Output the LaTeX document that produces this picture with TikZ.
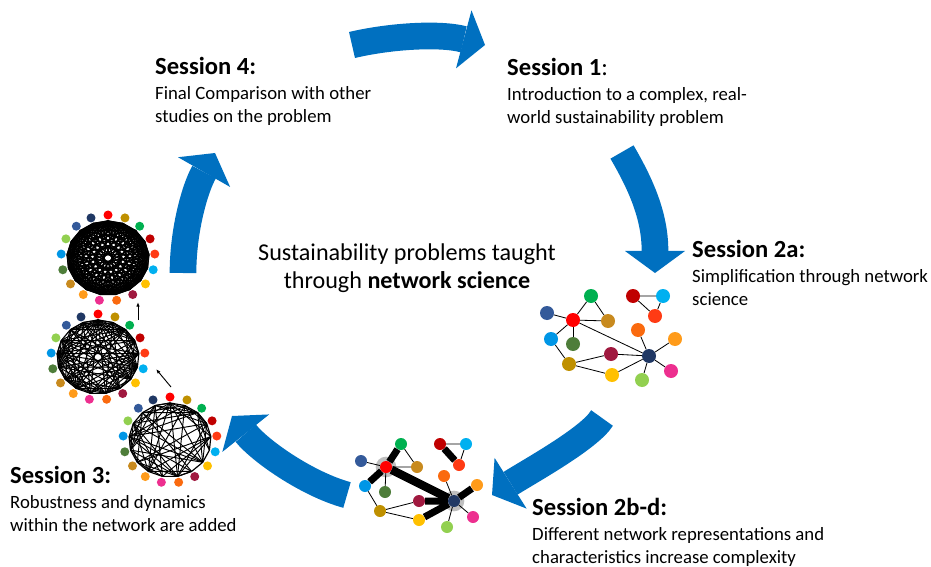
\documentclass[tikz,border=0pt]{standalone}
\usepackage{fontspec}
\setmainfont{Carlito}
\usetikzlibrary{arrows.meta}

\definecolor{cycleblue}{HTML}{0070C0}
\definecolor{sdg1}{HTML}{FF0000}
\definecolor{sdg2}{HTML}{BF9000}
\definecolor{sdg3}{HTML}{00B050}
\definecolor{sdg4}{HTML}{C00000}
\definecolor{sdg5}{HTML}{FF3B14}
\definecolor{sdg6}{HTML}{00B0F0}
\definecolor{sdg7}{HTML}{FFC000}
\definecolor{sdg8}{HTML}{A0193F}
\definecolor{sdg9}{HTML}{FA6A0F}
\definecolor{sdg10}{HTML}{ED2F8F}
\definecolor{sdg11}{HTML}{FF9B1A}
\definecolor{sdg12}{HTML}{C88A1E}
\definecolor{sdg13}{HTML}{4E7D3A}
\definecolor{sdg14}{HTML}{0096E6}
\definecolor{sdg15}{HTML}{92D050}
\definecolor{sdg16}{HTML}{345A9A}
\definecolor{sdg17}{HTML}{203864}

\newcommand{\headfont}{\fontsize{21}{22}\selectfont}

\pgfdeclarelayer{bg}
\pgfsetlayers{bg,main}

\tikzset{
    cyclearrow/.style={draw=cycleblue, line width=0.8cm,
        -{Triangle[width=1.8cm, length=0.66cm, line width=0pt]}},
    sessnote/.style={anchor=north west, inner sep=0pt, align=left,
        font=\fontsize{16}{19.6}\selectfont},
    bigdot/.style={shape=circle, inner sep=0pt, minimum size=0.42cm},
    meddot/.style={shape=circle, inner sep=0pt, minimum size=0.36cm},
    ringdot/.style={shape=circle, inner sep=0pt, minimum size=0.27cm},
    thinedge/.style={line width=0.7pt},
    fatedge/.style={line width=0.21cm},
    halo/.style={shape=circle, fill=gray!50, inner sep=0pt, minimum size=0.62cm}
}

\begin{document}
\begin{tikzpicture}[x=0.03cm, y=-0.03cm]
    \useasboundingbox (0,0) rectangle (931,567);

    % cycle arrows
    \coordinate (a1s) at (352,45);   \coordinate (a1e) at (485,45);
    \coordinate (a2s) at (622,152);  \coordinate (a2e) at (655,273);
    \coordinate (a3s) at (602,418);  \coordinate (a3e) at (492,495);
    \coordinate (a4s) at (347,495);  \coordinate (a4e) at (232,416);
    \coordinate (a5s) at (183,273);  \coordinate (a5e) at (215,153);
    \draw[cyclearrow] (a1s) .. controls (390,36) and (440,33) .. (a1e);
    \draw[cyclearrow] (a2s) .. controls (640,183) and (655,215) .. (a2e);
    \draw[cyclearrow] (a3s) .. controls (590,438) and (530,471) .. (a3e);
    \draw[cyclearrow] (a4s) .. controls (307,484) and (260,451) .. (a4e);
    \draw[cyclearrow] (a5s) .. controls (183,230) and (195,188) .. (a5e);

    % texts
    \node[sessnote] (s4) at (155,57) {{\headfont\textbf{Session 4:}}\\[1.7pt]Final Comparison with other\\studies on the problem};
    \node[sessnote] (s1) at (507,58) {{\headfont\textbf{Session 1}:}\\[1.7pt]Introduction to a complex, real-\\world sustainability problem};
    \node[sessnote] (s2a) at (692,240) {{\headfont\textbf{Session 2a:}}\\[1.7pt]Simplification through network\\science};
    \node[sessnote] (s2bd) at (532,498) {{\headfont\textbf{Session 2b-d:}}\\[1.7pt]Different network representations and\\characteristics increase complexity};
    \node[sessnote] (s3) at (10,466) {{\headfont\textbf{Session 3:}}\\[1.7pt]Robustness and dynamics\\within the network are added};
    \node[align=center, inner sep=0pt, font=\fontsize{20.6}{23.5}\selectfont] (title) at (407,268)
        {Sustainability problems taught\\through \textbf{network science}};

    % session 2a network
    \node[bigdot, fill=sdg1] (pa1) at (573,320) {};
    \node[bigdot, fill=sdg2] (pa2) at (569,364) {};
    \node[bigdot, fill=sdg3] (pa3) at (591,296) {};
    \node[bigdot, fill=sdg4] (pa4) at (633,296) {};
    \node[bigdot, fill=sdg5] (pa5) at (655,316) {};
    \node[bigdot, fill=sdg6] (pa6) at (663,296) {};
    \node[bigdot, fill=sdg7] (pa7) at (612,375) {};
    \node[bigdot, fill=sdg8] (pa8) at (611,354) {};
    \node[bigdot, fill=sdg9] (pa9) at (638,330) {};
    \node[bigdot, fill=sdg10] (pa10) at (671,371) {};
    \node[bigdot, fill=sdg11] (pa11) at (675,339) {};
    \node[bigdot, fill=sdg12] (pa12) at (608,321) {};
    \node[bigdot, fill=sdg13] (pa13) at (573,344) {};
    \node[bigdot, fill=sdg14] (pa14) at (551,339) {};
    \node[bigdot, fill=sdg15] (pa15) at (642,380) {};
    \node[bigdot, fill=sdg16] (pa16) at (547,313) {};
    \node[bigdot, fill=sdg17] (pa17) at (649,356) {};
    \begin{pgfonlayer}{bg}
        \draw[thinedge] (pa16) -- (pa1) -- (pa3) -- (pa12) -- (pa1) -- (pa14) -- (pa2) -- (pa8) -- (pa17);
        \draw[thinedge] (pa1) -- (pa13);
        \draw[thinedge] (pa1) -- (pa17);
        \draw[thinedge] (pa2) -- (pa7) -- (pa17);
        \draw[thinedge] (pa9) -- (pa17) -- (pa11);
        \draw[thinedge] (pa10) -- (pa17) -- (pa15);
        \draw[thinedge] (pa4) -- (pa6) -- (pa5) -- (pa4);
    \end{pgfonlayer}

    % session 2b-d network
    \node[meddot, fill=sdg1] (pb1) at (386,467) {};
    \node[meddot, fill=sdg2] (pb2) at (380,511) {};
    \node[meddot, fill=sdg3] (pb3) at (401,444) {};
    \node[meddot, fill=sdg4] (pb4) at (440,444) {};
    \node[meddot, fill=sdg5] (pb5) at (459,465) {};
    \node[meddot, fill=sdg6] (pb6) at (466,444) {};
    \node[meddot, fill=sdg7] (pb7) at (419,520) {};
    \node[meddot, fill=sdg8] (pb8) at (419,501) {};
    \node[meddot, fill=sdg9] (pb9) at (444,476) {};
    \node[meddot, fill=sdg10] (pb10) at (473,517) {};
    \node[meddot, fill=sdg11] (pb11) at (477,485) {};
    \node[meddot, fill=sdg12] (pb12) at (417,467) {};
    \node[meddot, fill=sdg13] (pb13) at (385,492) {};
    \node[meddot, fill=sdg14] (pb14) at (365,486) {};
    \node[meddot, fill=sdg15] (pb15) at (447,527) {};
    \node[meddot, fill=sdg16] (pb16) at (361,461) {};
    \node[meddot, fill=sdg17] (pb17) at (454,501) {};
    \begin{pgfonlayer}{bg}
        \node[halo] (hb1) at (386,467) {};
        \node[halo] (hb17) at (454,501) {};
        \draw[thinedge] (pb16) -- (pb1) -- (pb12) -- (pb3);
        \draw[thinedge] (pb1) -- (pb13);
        \draw[thinedge] (pb14) -- (pb2) -- (pb8);
        \draw[thinedge] (pb2) -- (pb7);
        \draw[thinedge] (pb9) -- (pb17) -- (pb10);
        \draw[thinedge] (pb17) -- (pb15);
        \draw[thinedge] (pb4) -- (pb6) -- (pb5);
        \draw[fatedge] (pb14) -- (pb1) -- (pb3);
        \draw[fatedge, line width=0.25cm] (pb1) -- (pb17);
        \draw[fatedge] (pb8) -- (pb17) -- (pb7);
        \draw[fatedge] (pb17) -- (pb11);
        \draw[fatedge] (pb4) -- (pb5);
    \end{pgfonlayer}

    % session 3 ring networks
    \foreach \cx/\cy/\nm/\md/\lw in {108/258/ca/10/1.2pt, 98/357/cb/7/0.85pt, 170/440/cc/4/0.8pt}{
        \begin{scope}[shift={(\cx,\cy)}]
            \foreach \c [count=\k from 0] in {sdg1,sdg2,sdg3,sdg4,sdg5,sdg6,sdg7,sdg8,sdg9,sdg10,sdg11,sdg12,sdg13,sdg14,sdg15,sdg16,sdg17}{
                \coordinate (\nm i\k) at (-90+21.176*\k:41 and 37);
                \node[ringdot, fill=\c] (\nm\k) at (-90+21.176*\k:47 and 43) {};
            }
            \foreach \i in {0,...,15}{
                \pgfmathtruncatemacro\jstart{\i+1}
                \foreach \j in {\jstart,...,16}{
                    \pgfmathtruncatemacro\sel{mod(\i*\i*\j+5*\j*\j+3*\i,10)}
                    \ifnum\sel<\md \draw[line width=\lw] (\nm i\i) -- (\nm i\j); \fi
                }
                \draw[line width=1pt] (\nm i\i) -- (\nm i\jstart);
            }
            \draw[line width=1pt] (\nm i16) -- (\nm i0);
        \end{scope}
    }
    \coordinate (cc_up) at (171,387);  \coordinate (cb_low) at (156,369);
    \coordinate (cb_up) at (138,320);  \coordinate (ca_low) at (138,302);
    \draw[line width=0.8pt, -{Latex[length=4pt]}] (cc_up) -- (cb_low);
    \draw[line width=0.8pt, -{Latex[length=4pt]}] (cb_up) -- (ca_low);
\end{tikzpicture}
\end{document}
